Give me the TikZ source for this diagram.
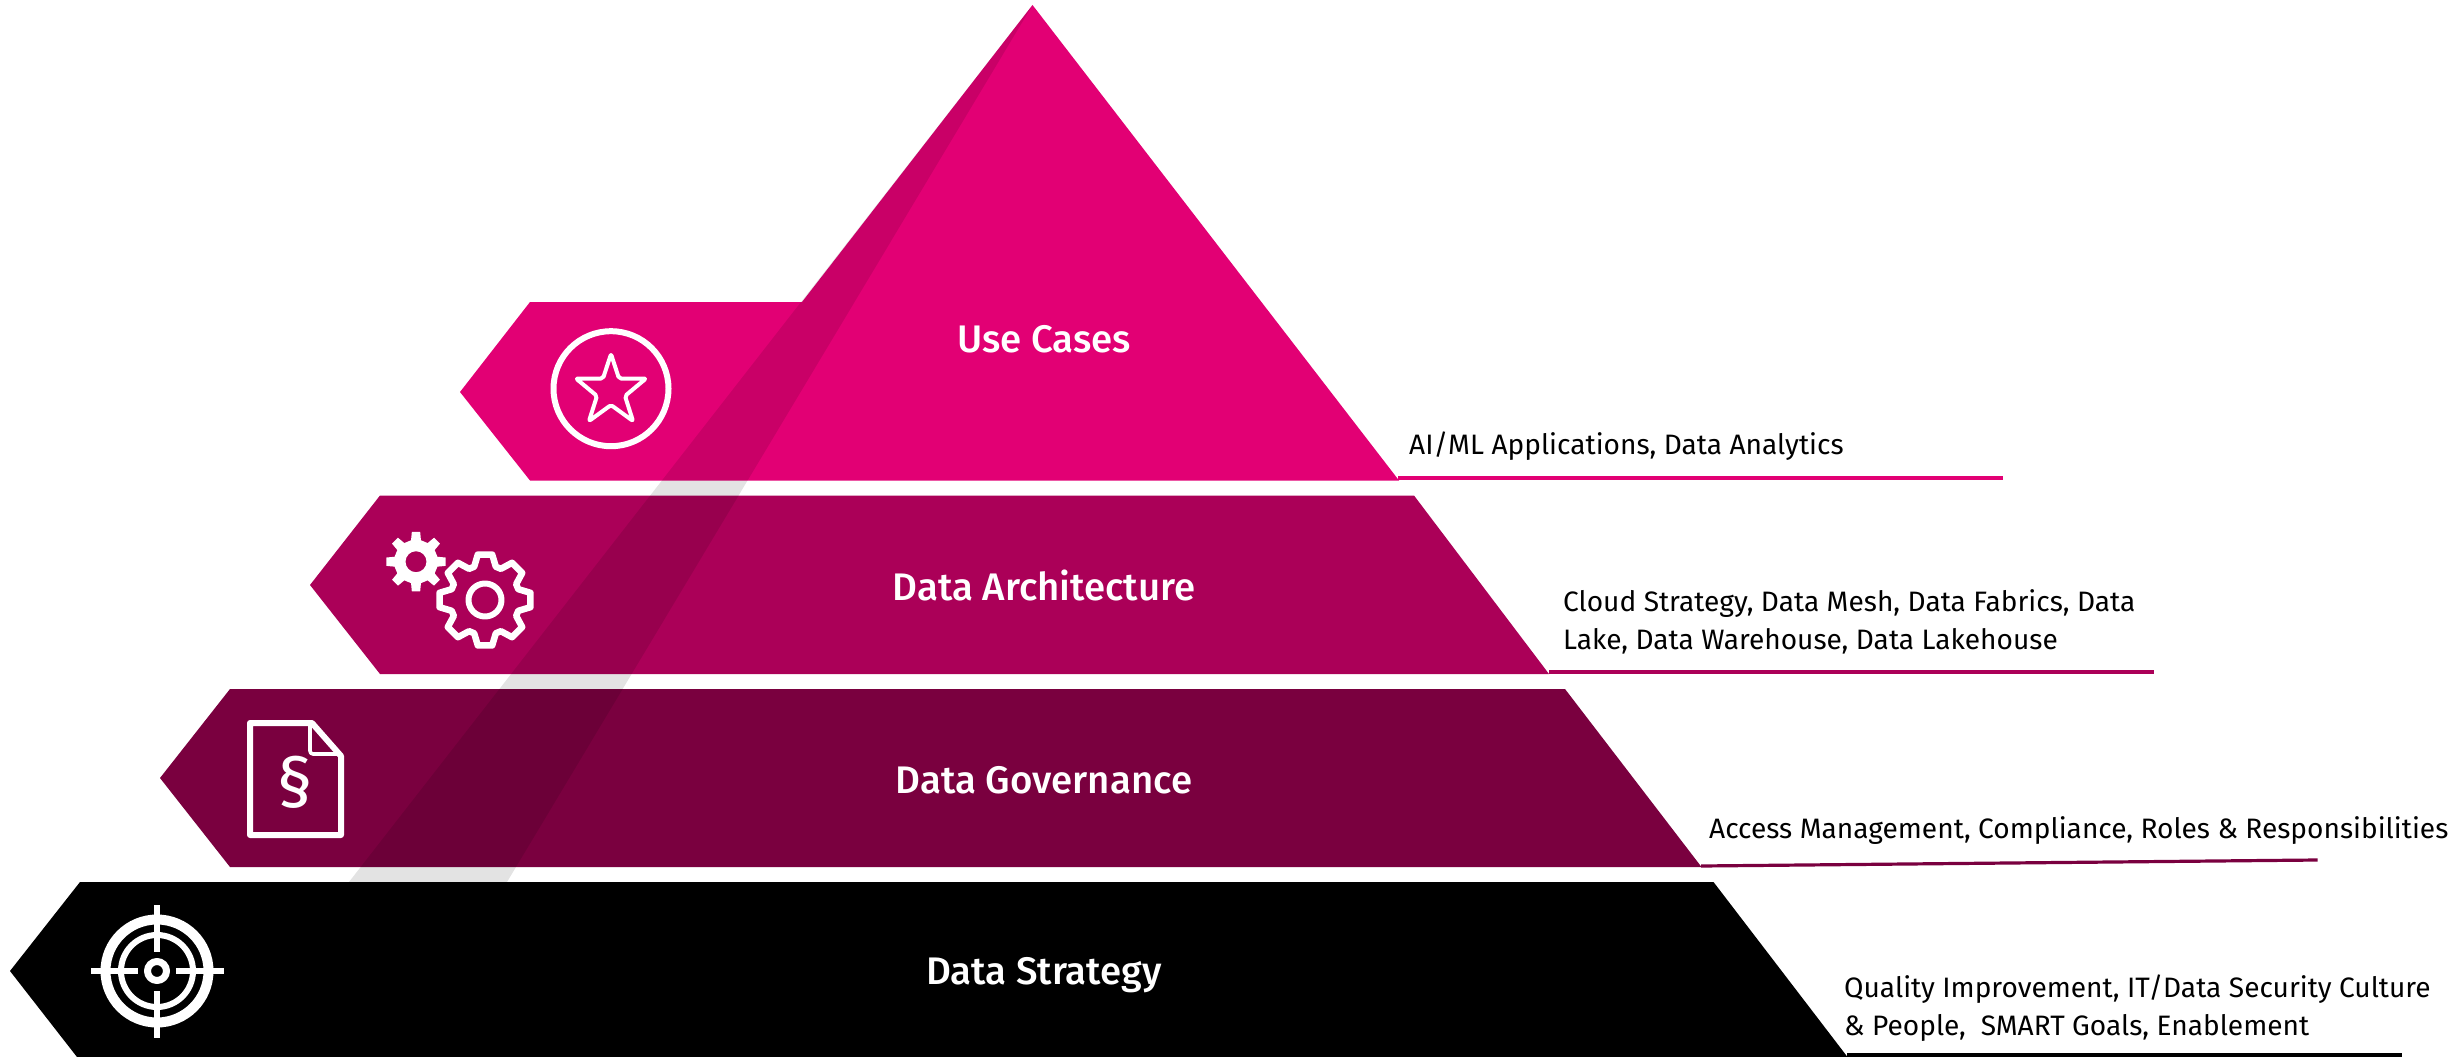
\documentclass[tikz,border=0pt]{standalone}
\usepackage{fontspec}
\setmainfont{Fira Sans}[BoldFont={Fira Sans Medium}]
\begin{document}
\begin{tikzpicture}[x=1pt,y=-1pt,
  lvlA/.style={fill=tA},lvlB/.style={fill=tB},lvlC/.style={fill=tC},lvlD/.style={fill=black},
  title/.style={text=white,font=\fontsize{38.4}{42}\selectfont\bfseries,anchor=center,inner sep=0pt},
  desc/.style={text=black,font=\fontsize{28.1}{38}\selectfont,anchor=west,inner sep=0pt,align=left},
  rule/.style={line width=3.2pt},
  ico/.style={draw=white,line join=round}]
\definecolor{tA}{HTML}{E20074}
\definecolor{tB}{HTML}{AB0058}
\definecolor{tC}{HTML}{7A003F}
\useasboundingbox (0,0) rectangle (2461,1057);
% levels
\fill[lvlA] (1032.5,5) -- (1399,480.5) -- (530,480.5) -- (460,392) -- (530,302) -- (802,302) -- cycle;
\fill[lvlB] (380,495.5) -- (1414,495.5) -- (1549,674) -- (380,674) -- (310,585) -- cycle;
\fill[lvlC] (230,689) -- (1565,689) -- (1701.5,867) -- (230,867) -- (160,778) -- cycle;
\fill[lvlD] (80,882) -- (1713.5,882) -- (1847.5,1057) -- (77,1057) -- (10,971) -- cycle;
% translucent stripe
\fill[black,fill opacity=0.11] (1032.5,5) -- (507,882) -- (349,882) -- cycle;
% underlines
\coordinate (ra1) at (1398,478); \coordinate (ra2) at (2003,478);
\coordinate (rb1) at (1549,672); \coordinate (rb2) at (2154,672);
\coordinate (rc1) at (1701,866); \coordinate (rc2) at (2317.5,860);
\coordinate (rd1) at (1847,1055); \coordinate (rd2) at (2402,1055);
\draw[rule,tA] (ra1) -- (ra2);
\draw[rule,tB] (rb1) -- (rb2);
\draw[rule,tC] (rc1) -- (rc2);
\draw[rule,black] (rd1) -- (rd2);
% titles
\node[title] (ta) at (1044,339) {Use Cases};
\node[title] (tb) at (1044,585) {Data Architecture};
\node[title] (tc) at (1044,780) {Data Governance};
\node[title] (td) at (1044,975) {Data Strategy};
% descriptions
\node[desc] (da) at (1409,446) {AI/ML Applications, Data Analytics};
\node[desc] (db) at (1563,622) {Cloud Strategy, Data Mesh, Data Fabrics, Data\\Lake, Data Warehouse, Data Lakehouse};
\node[desc] (dc) at (1709,831) {Access Management, Compliance, Roles \& Responsibilities};
\node[desc] (dd) at (1844,1008) {Quality Improvement, IT/Data Security Culture\\\& People,\ \ SMART Goals, Enablement};
% star icon
\draw[ico,line width=6pt] (611,388.7) circle (57.5);
\draw[ico,line width=4pt,rounded corners=2pt] (611,354) -- (619,378.5) -- (646,378.5) -- (625,396) -- (633,421) -- (611,405) -- (589,421) -- (597,396) -- (576,378.5) -- (603,378.5) -- cycle;
% small gear
\fill[white,even odd rule,shift={(416,561.7)}]
  (-13:22) \foreach \a in {0,45,...,315} { -- (\a-13:22) -- (\a-8:30) -- (\a+8:30) -- (\a+13:22) } -- cycle
  (0,0) circle (10.5);
% big gear
\draw[ico,line width=6.5pt,miter limit=4,shift={(485,600)}]
  (-18:35) \foreach \a in {0,45,...,315} { -- (\a-18:35) -- (\a-9:46) -- (\a+9:46) -- (\a+18:35) } -- cycle;
\draw[ico,line width=6pt] (485,600) circle (16.5);
% document icon
\draw[ico,line width=6pt] (250,723) -- (312,723) -- (341,756) -- (341,835) -- (250,835) -- cycle;
\draw[ico,line width=3.6pt,rounded corners=3pt] (310,724) -- (310,754) -- (341,754);
\node[text=white,font=\fontsize{70}{70}\selectfont,inner sep=0pt] (par) at (295.5,782.5) {§};
% target icon
\draw[ico,line width=10pt] (157,971) circle (51.5);
\draw[ico,line width=6pt] (157,971) circle (36);
\draw[ico,line width=7pt] (157,971) circle (9.5);
\fill[white] (90.6,967.8) rectangle (138,974.2);
\fill[white] (176,967.8) rectangle (223.6,974.2);
\fill[white] (153.8,905) rectangle (160.2,952);
\fill[white] (153.8,991) rectangle (160.2,1038);
\end{tikzpicture}
\end{document}
